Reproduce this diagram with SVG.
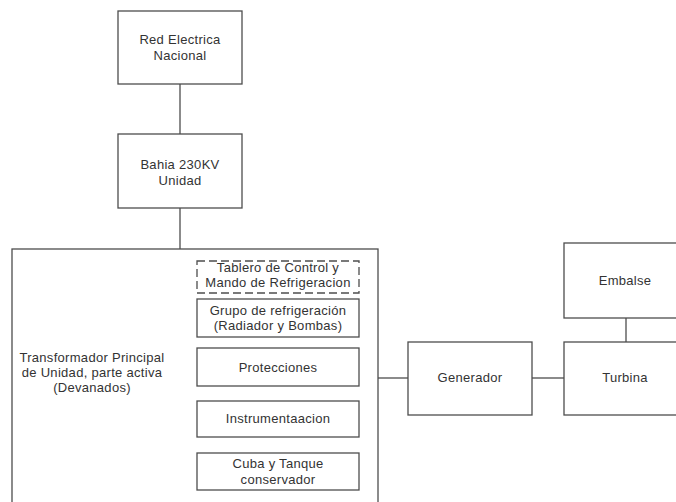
<svg xmlns="http://www.w3.org/2000/svg" width="676" height="502" viewBox="0 0 676 502">
<style>
.b{fill:#fff;stroke:#4d4d4d;stroke-width:1.3}
.d{fill:#fff;stroke:#4d4d4d;stroke-width:1.3;stroke-dasharray:8 4}
.c{fill:none;stroke:#4d4d4d;stroke-width:1.3}
text{font-family:"Liberation Sans",Arial,sans-serif;font-size:13px;letter-spacing:0.3px;fill:#333;text-anchor:middle}
</style>
<rect width="676" height="502" fill="#fff"/>
<g id="connectors">
<line class="c" x1="180" y1="84" x2="180" y2="134"/>
<line class="c" x1="180" y1="208" x2="180" y2="249"/>
<line class="c" x1="378" y1="378" x2="408" y2="378"/>
<line class="c" x1="532" y1="378" x2="564" y2="378"/>
<line class="c" x1="626" y1="318" x2="626" y2="342"/>
</g>
<g id="red"><rect class="b" x="118" y="11" width="124" height="73"/><text x="180" y="44">Red Electrica</text><text x="180" y="60">Nacional</text></g>
<g id="bahia"><rect class="b" x="118" y="134" width="124" height="74"/><text x="180" y="169">Bahia 230KV</text><text x="180" y="185">Unidad</text></g>
<g id="transformador"><rect class="b" x="12" y="249" width="366" height="270"/><text x="92" y="362">Transformador Principal</text><text x="92" y="377">de Unidad, parte activa</text><text x="92" y="392">(Devanados)</text></g>
<g id="tablero"><rect class="d" x="197" y="261" width="162" height="32"/><text x="278" y="272">Tablero de Control y</text><text x="278" y="287">Mando de Refrigeracion</text></g>
<g id="grupo"><rect class="b" x="197" y="299" width="162" height="38"/><text x="278" y="315">Grupo de refrigeración</text><text x="278" y="330">(Radiador y Bombas)</text></g>
<g id="protecciones"><rect class="b" x="197" y="348" width="162" height="38"/><text x="278" y="372">Protecciones</text></g>
<g id="instrumentacion"><rect class="b" x="197" y="401" width="162" height="36"/><text x="278" y="423">Instrumentaacion</text></g>
<g id="cuba"><rect class="b" x="197" y="453" width="162" height="37"/><text x="278" y="468">Cuba y Tanque</text><text x="278" y="484">conservador</text></g>
<g id="generador"><rect class="b" x="408" y="342" width="124" height="73"/><text x="470" y="382">Generador</text></g>
<g id="turbina"><rect class="b" x="564" y="342" width="124" height="73"/><text x="625" y="382">Turbina</text></g>
<g id="embalse"><rect class="b" x="564" y="243" width="124" height="75"/><text x="625" y="285">Embalse</text></g>
</svg>
